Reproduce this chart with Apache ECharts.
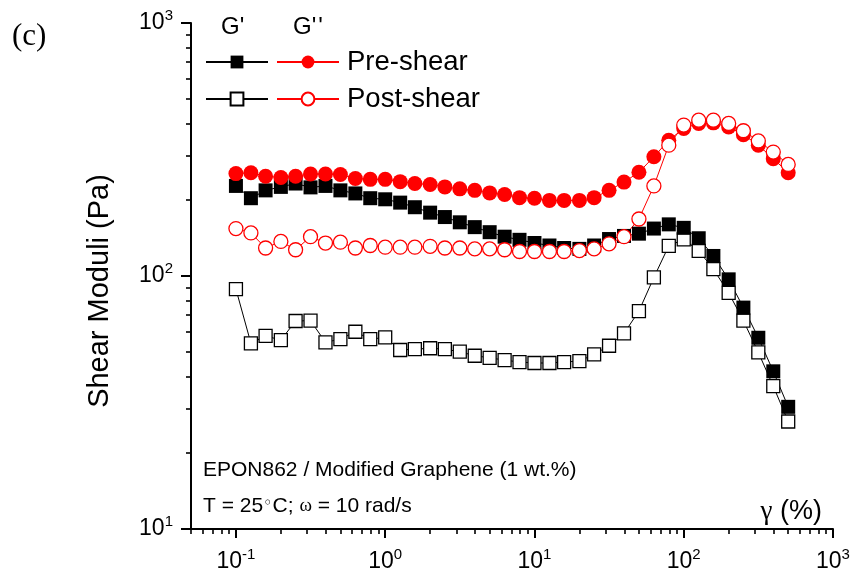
<!DOCTYPE html>
<html>
<head>
<meta charset="utf-8">
<script src="https://cdn.jsdelivr.net/npm/echarts@6/dist/echarts.min.js"></script>
<style>
html,body{margin:0;padding:0;background:#fff}
#chart{width:855px;height:582px}
</style>
</head>
<body>
<div id="chart"></div>
<script>
// Strain amplitude sweep, gamma (%)
const strain = [0.1, 0.126, 0.158, 0.2, 0.251, 0.316, 0.398, 0.501, 0.631, 0.794,
  1, 1.26, 1.58, 2, 2.51, 3.16, 3.98, 5.01, 6.31, 7.94,
  10, 12.6, 15.8, 20, 25.1, 31.6, 39.8, 50.1, 63.1, 79.4,
  100, 126, 158, 200, 251, 316, 398, 501];

// Storage modulus G' (Pa)
const gPrimePre = [227, 203, 218, 225, 232, 224, 227, 218, 212, 203,
  201, 195, 187, 178, 171, 163, 156, 149, 143, 139,
  135, 132, 129, 128, 132, 140, 144, 147, 154, 160,
  155, 141, 120, 97, 75, 57, 42, 30.4];
const gPrimePost = [88.8, 54.2, 58, 55.8, 66.4, 66.6, 54.7, 56.3, 60.2, 56.3,
  57.2, 51, 51.4, 51.8, 51.4, 50.2, 48.4, 47.5, 46.5, 45.7,
  45.3, 45.3, 45.7, 46.1, 49, 53, 59.3, 72.7, 98.7, 131.6,
  139.5, 125.8, 106.5, 85.8, 66.6, 49.9, 36.7, 26.6];

// Loss modulus G'' (Pa)
const gDoublePre = [254, 256, 248, 245, 248, 253, 253, 252, 243, 241,
  241, 236, 232, 230, 225, 221, 218, 213, 210, 204,
  203, 199, 199, 199, 204, 218, 235, 257, 296, 344,
  383, 401, 403, 388, 362, 329, 291, 256];
const gDoublePost = [154, 148, 129, 137, 127, 143, 135, 136, 129, 132,
  130, 130, 130, 131, 129, 129, 128, 128, 127, 125,
  125, 125, 125, 126, 128, 134, 143, 168, 227, 329,
  395, 413, 413, 401, 375, 342, 309, 276];

// Axis ticks
const xMajorTicks = [0.1, 1, 10, 100, 1000];
const xMinorTicks = [0.05, 0.06, 0.07, 0.08, 0.09,
  0.2, 0.3, 0.4, 0.5, 0.6, 0.7, 0.8, 0.9,
  2, 3, 4, 5, 6, 7, 8, 9,
  20, 30, 40, 50, 60, 70, 80, 90,
  200, 300, 400, 500, 600, 700, 800, 900];
const yMajorTicks = [10, 100, 1000];
const yMinorTicks = [20, 30, 40, 50, 60, 70, 80, 90,
  200, 300, 400, 500, 600, 700, 800, 900];

const legendLabels = { gpp_pre: 'Pre-shear', gpp_post: 'Post-shear' };

const SANS = '"Liberation Sans", Arial, sans-serif';
const SERIF = '"Liberation Serif", "Times New Roman", serif';

const pair = ys => strain.map((x, i) => [x, ys[i]]);

// "10" with a raised exponent
const powerLabel = () => ({
  formatter: v => '{b|10}{s|' + Math.round(Math.log10(v)) + '}',
  rich: {
    b: { fontFamily: SANS, fontSize: 23, color: '#000', lineHeight: 30 },
    s: { fontFamily: SANS, fontSize: 15, color: '#000', lineHeight: 15, verticalAlign: 'top' }
  }
});

const axisLineStyle = { color: '#000', width: 2 };

const chart = echarts.init(document.getElementById('chart'), null, { renderer: 'canvas' });

chart.setOption({
  animation: false,
  backgroundColor: '#fff',
  grid: { left: 191, right: 22, top: 23, bottom: 53, containLabel: false },
  xAxis: [
    {
      type: 'log', logBase: 10, min: 0.05, max: 1000, position: 'bottom',
      axisLine: { lineStyle: axisLineStyle },
      axisTick: { show: true, inside: false, length: 9, customValues: xMajorTicks, lineStyle: { color: '#000', width: 2 } },
      axisLabel: Object.assign({ show: true, margin: 18, customValues: xMajorTicks }, powerLabel()),
      splitLine: { show: false }
    },
    {
      type: 'log', logBase: 10, min: 0.05, max: 1000, position: 'bottom',
      axisLine: { show: false },
      axisTick: { show: true, inside: false, length: 5, customValues: xMinorTicks, lineStyle: { color: '#000', width: 1.6 } },
      axisLabel: { show: false },
      splitLine: { show: false }
    }
  ],
  yAxis: [
    {
      type: 'log', logBase: 10, min: 10, max: 1000, position: 'left',
      axisLine: { show: true, lineStyle: axisLineStyle },
      axisTick: { show: true, inside: false, length: 10, customValues: yMajorTicks, lineStyle: { color: '#000', width: 2 } },
      axisLabel: Object.assign({ show: true, margin: 18, customValues: yMajorTicks }, powerLabel()),
      splitLine: { show: false }
    },
    {
      type: 'log', logBase: 10, min: 10, max: 1000, position: 'left',
      axisLine: { show: false },
      axisTick: { show: true, inside: false, length: 5, customValues: yMinorTicks, lineStyle: { color: '#000', width: 1.6 } },
      axisLabel: { show: false },
      splitLine: { show: false }
    }
  ],
  legend: [
    {
      data: ['gp_pre', 'gp_post'], orient: 'vertical', left: 205, top: 48, padding: 0,
      itemWidth: 62, itemHeight: 16, itemGap: 9, selectedMode: false,
      formatter: () => '\u00a0',
      textStyle: { fontFamily: SANS, fontSize: 27.5, color: '#000' }
    },
    {
      data: ['gpp_pre', 'gpp_post'], orient: 'vertical', left: 276, top: 48, padding: 0,
      itemWidth: 62, itemHeight: 16, itemGap: 9, selectedMode: false,
      formatter: name => legendLabels[name],
      textStyle: { fontFamily: SANS, fontSize: 27.5, color: '#000', padding: [0, 0, 0, 3] }
    }
  ],
  series: [
    {
      name: 'gp_post', type: 'line', data: pair(gPrimePost),
      symbol: 'rect', symbolSize: 13,
      itemStyle: { color: '#fff', borderColor: '#000', borderWidth: 1.3 },
      lineStyle: { color: '#000', width: 1 }
    },
    {
      name: 'gp_pre', type: 'line', data: pair(gPrimePre),
      symbol: 'rect', symbolSize: 14,
      itemStyle: { color: '#000' },
      lineStyle: { color: '#000', width: 1 }
    },
    {
      name: 'gpp_pre', type: 'line', data: pair(gDoublePre),
      symbol: 'circle', symbolSize: 15,
      itemStyle: { color: '#ff0000' },
      lineStyle: { color: '#ff0000', width: 1 }
    },
    {
      name: 'gpp_post', type: 'line', data: pair(gDoublePost),
      symbol: 'circle', symbolSize: 14,
      itemStyle: { color: '#fff', borderColor: '#ff0000', borderWidth: 1.3 },
      lineStyle: { color: '#ff0000', width: 1 }
    }
  ],
  graphic: [
    { type: 'text', left: 12, top: 21, style: { text: '(c)', font: '31px ' + SERIF, fill: '#000' } },
    { type: 'text', left: 221, top: 15, style: { text: "G'", font: '24px ' + SANS, fill: '#000' } },
    { type: 'text', left: 293, top: 15, style: { text: "G'\u200a'", font: '24px ' + SANS, fill: '#000' } },
    {
      type: 'text', x: 100, y: 291, rotation: Math.PI / 2,
      style: { text: 'Shear Moduli (Pa)', font: '29px ' + SANS, fill: '#000', align: 'center', verticalAlign: 'middle' }
    },
    {
      type: 'text', x: 203, y: 470,
      style: { text: 'EPON862 / Modified Graphene (1 wt.%)', font: '21px ' + SANS, fill: '#000', verticalAlign: 'middle' }
    },
    {
      type: 'text', x: 203, y: 506,
      style: {
        text: '{a|T = 25}{d|\u25e6}{a|C; }{w|\u03c9}{a| = 10 rad/s}',
        verticalAlign: 'middle',
        rich: {
          a: { fontFamily: SANS, fontSize: 21, fill: '#000' },
          d: { fontFamily: '"DejaVu Sans", sans-serif', fontSize: 16, fill: '#000', verticalAlign: 'top' },
          w: { fontFamily: SERIF, fontSize: 19, fill: '#000' }
        }
      }
    },
    {
      type: 'text', x: 822, y: 512,
      style: {
        text: '{g|\u03b3}{a| (%)}',
        align: 'right', verticalAlign: 'middle',
        rich: {
          g: { fontFamily: SERIF, fontSize: 27, fill: '#000' },
          a: { fontFamily: SANS, fontSize: 27, fill: '#000' }
        }
      }
    }
  ]
});
</script>
</body>
</html>
